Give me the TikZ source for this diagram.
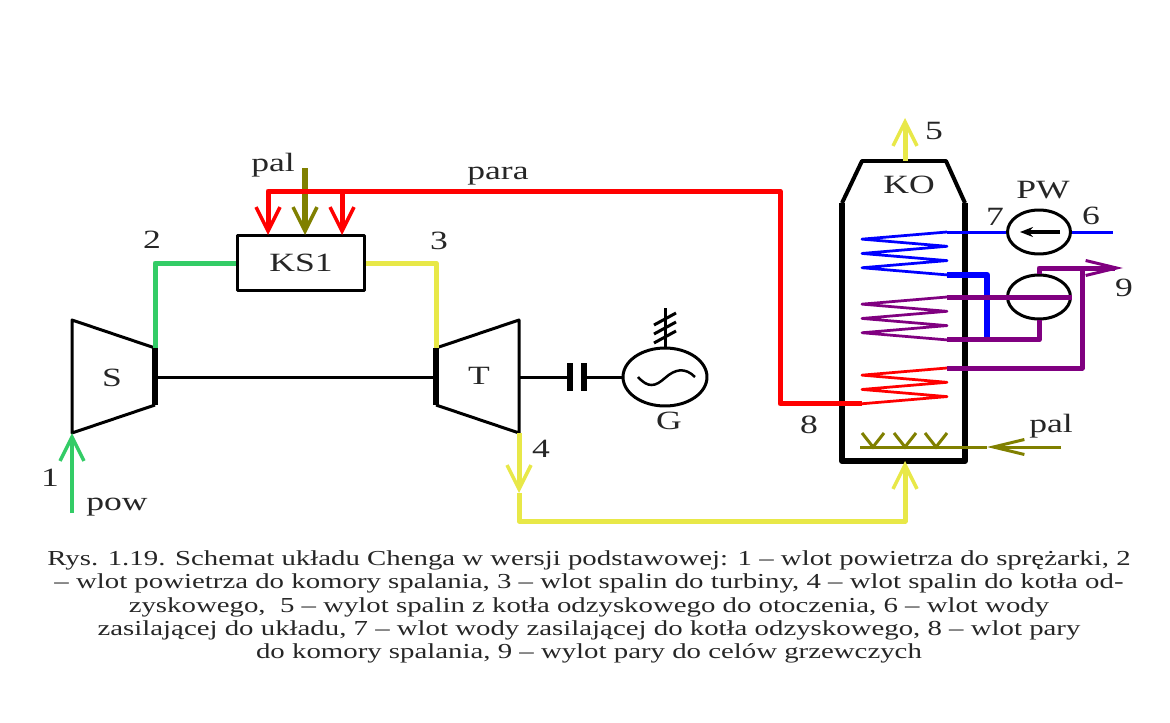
\documentclass[tikz,border=0pt]{standalone}
\usepackage{fontspec}
\setmainfont[FakeStretch=1.35]{Liberation Serif}
\usetikzlibrary{arrows.meta,shapes.geometric}

\definecolor{pipeGreen}{HTML}{33CC66}
\definecolor{pipeYellow}{HTML}{E8E848}
\definecolor{pipeRed}{HTML}{FF0000}
\definecolor{pipeOlive}{HTML}{808000}
\definecolor{pipeBlue}{HTML}{0000FF}
\definecolor{pipePurple}{HTML}{800080}

\begin{document}
\begin{tikzpicture}[
    x=0.02cm, y=-0.02cm,
    % unified line styles
    thin_line/.style={line width=0.06cm, line join=round},
    thick_line/.style={line width=0.11cm},
    pipe_line/.style={line width=0.1cm, line join=round},
    water_line/.style={line width=0.06cm},
    coil_line/.style={line width=0.055cm, line join=round},
    barb_tip/.style={-{Straight Barb[length=0.48cm,width=0.48cm,line width=0.07cm]}},
    long_tip/.style={-{Straight Barb[length=0.62cm,width=0.3cm,line width=0.06cm]}},
    label_text/.style={inner sep=0pt, text=black!85, font=\fontsize{15}{17}\selectfont},
    caption_text/.style={inner sep=0pt, align=center, text=black!85, font=\fontsize{12.15}{13.2}\selectfont},
    round_box/.style={ellipse, draw=black, thin_line, inner sep=0pt, minimum width=1.26cm, minimum height=0.88cm},
    clutch_bar/.style={fill=black, inner sep=0pt, minimum width=0.12cm, minimum height=0.58cm}
]
    \useasboundingbox (0,0) rectangle (1170,723);

    % --- coil macro: name, start y, number of segments, colour ---
    \newcommand{\coil}[4]{
        \coordinate (#1_in) at (947,#2);
        \draw[coil_line, color=#4] (#1_in)
            foreach \k in {1,...,#3} { -- ({947-85*mod(\k,2)},{#2+7.15*\k}) } coordinate (#1_out);
    }

    % --- machines ---
    \coordinate (S_a) at (72,320);
    \coordinate (S_b) at (155,348);
    \coordinate (S_c) at (155,405);
    \coordinate (S_d) at (72,433);
    \coordinate (S_shaft) at (155,377);
    \draw[thin_line] (S_b) -- (S_a) -- (S_d) -- (S_c);
    \draw[thick_line] (S_b) -- (S_c);
    \node[label_text] (S) at (112,378) {S};

    \coordinate (T_a) at (436,348);
    \coordinate (T_b) at (519,320);
    \coordinate (T_c) at (519,433);
    \coordinate (T_d) at (436,405);
    \coordinate (T_shaft) at (436,377);
    \coordinate (T_out) at (519,377);
    \draw[thin_line] (T_a) -- (T_b) -- (T_c) -- (T_d);
    \draw[thick_line] (T_a) -- (T_d);
    \node[label_text] (T) at (479,376) {T};

    \node[draw=black, thin_line, fill=white, minimum width=2.56cm, minimum height=1.12cm, label_text] (KS1) at (301,263) {KS1};

    % shaft, clutch and generator
    \node[round_box, minimum width=1.68cm, minimum height=1.16cm] (Gen) at (665,377) {};
    \node[clutch_bar] (clutch_a) at (570,377) {};
    \node[clutch_bar] (clutch_b) at (584,377) {};
    \draw[thin_line] (S_shaft) -- (T_shaft);
    \draw[thin_line] (T_out) -- (clutch_a);
    \draw[thin_line] (clutch_b) -- (Gen);
    \draw[line width=0.05cm] (638,377) .. controls (648,388) and (655,387) .. (665,378) .. controls (675,369) and (685,367) .. (695,377);
    \coordinate (mast) at (665,308);
    \draw[thin_line] (Gen) -- (mast);
    \foreach \yy in {325,334,343} {
        \draw[line width=0.06cm] (654,\yy) -- (676,\yy-12);
    }

    % --- boiler casing ---
    \coordinate (KO_a) at (842,203);
    \coordinate (KO_b) at (862,161);
    \coordinate (KO_c) at (946,161);
    \coordinate (KO_d) at (965,203);
    \coordinate (KO_e) at (965,461);
    \coordinate (KO_f) at (842,461);
    \draw[line width=0.08cm, line join=round] (KO_a) -- (KO_b) -- (KO_c) -- (KO_d);
    \draw[line width=0.12cm, line join=round] (KO_a) -- (KO_f) -- (KO_e) -- (KO_d);

    % --- coils ---
    \coil{coil_blue}{232}{6}{pipeBlue}
    \coil{coil_purple}{297}{6}{pipePurple}
    \coil{coil_red}{368}{5}{pipeRed}

    % --- air and flue gas ---
    \coordinate (air_in) at (72,513);
    \draw[pipe_line, color=pipeGreen, barb_tip, line width=0.08cm] (air_in) -- (S_d);
    \draw[pipe_line, color=pipeGreen] (S_b) |- (KS1.west);
    \draw[pipe_line, color=pipeYellow] (KS1.east) -| (T_a);
    \coordinate (gas_mid) at (519,493);
    \coordinate (KO_bottom) at (905,461);
    \coordinate (KO_top) at (905,161);
    \coordinate (gas_out) at (905,118);
    \draw[pipe_line, color=pipeYellow, barb_tip] (T_c) -- (gas_mid);
    \draw[pipe_line, color=pipeYellow, barb_tip] (gas_mid) |- (700,521) -| (KO_bottom);
    \draw[pipe_line, color=pipeYellow, barb_tip] (KO_top) -- (gas_out);

    % --- fuel ---
    \coordinate (fuel_top) at (305,168);
    \coordinate (fuel_in) at (305,235);
    \draw[thick_line, color=pipeOlive, barb_tip] (fuel_top) -- (fuel_in);
    \coordinate (burner_in) at (1061,447);
    \coordinate (burner_mid) at (987,447);
    \coordinate (burner_end) at (860,447);
    \draw[water_line, color=pipeOlive, long_tip] (burner_in) -- (burner_mid);
    \draw[water_line, color=pipeOlive] (burner_mid) -- (burner_end);
    \foreach \xx in {873,905,936} {
        \draw[water_line, color=pipeOlive] (\xx-11,433) -- (\xx,447) -- (\xx+11,433);
    }

    % --- steam to the combustion chamber ---
    \coordinate (steam_left) at (268,235);
    \coordinate (steam_right) at (342,235);
    \coordinate (steam_top) at (342,191);
    \coordinate (steam_turn) at (780,191);
    \draw[pipe_line, color=pipeRed] (coil_red_out) -| (steam_turn) -- (steam_top);
    \draw[pipe_line, color=pipeRed, barb_tip] (steam_top) -| (steam_left);
    \draw[pipe_line, color=pipeRed, barb_tip] (steam_top) -- (steam_right);

    % --- feed water and heat exchanger ---
    \node[round_box] (PW) at (1039,232) {};
    \node[round_box] (WYM) at (1039,297) {};
    \coordinate (water_in) at (1113,232);
    \coordinate (PW_arrow_a) at (1060,232);
    \coordinate (PW_arrow_b) at (1020,232);
    \draw[water_line, color=pipeBlue] (coil_blue_in) -- (PW.west);
    \draw[water_line, color=pipeBlue] (PW.east) -- (water_in);
    \draw[line width=0.09cm, -{Stealth[length=0.26cm,width=0.2cm]}] (PW_arrow_a) -- (PW_arrow_b);

    \coordinate (blue_end) at (987,340);
    \draw[pipe_line, color=pipeBlue, line width=0.13cm] (coil_blue_out) -| (blue_end);
    \draw[pipe_line, color=pipePurple] (coil_purple_in) -- (WYM.east);
    \draw[pipe_line, color=pipePurple] (coil_purple_out) -| (WYM.south);
    \coordinate (heat_out) at (1123,268);
    \coordinate (heat_turn) at (1082,268);
    \draw[pipe_line, color=pipePurple, long_tip] (WYM.north) |- (heat_out);
    \draw[pipe_line, color=pipePurple] (coil_red_in) -| (heat_turn);

    % --- labels ---
    \node[label_text] (n1) at (50,478) {1};
    \node[label_text] (pow) at (117,507) {pow};
    \node[label_text] (n2) at (152,240) {2};
    \node[label_text] (pal_a) at (273,165) {pal};
    \node[label_text] (para) at (498,176) {para};
    \node[label_text] (n3) at (439,241) {3};
    \node[label_text] (n4) at (541,449) {4};
    \node[label_text] (G) at (669,421) {G};
    \node[label_text] (n8) at (809,425) {8};
    \node[label_text] (pal_b) at (1051,426) {pal};
    \node[label_text] (n5) at (934,131) {5};
    \node[label_text] (KO) at (909,185) {KO};
    \node[label_text] (PW_t) at (1043,190) {PW};
    \node[label_text] (n7) at (995,217) {7};
    \node[label_text] (n6) at (1091,216) {6};
    \node[label_text] (n9) at (1124,288) {9};

    \node[caption_text] (caption) at (589,607) {Rys. 1.19. Schemat układu Chenga w wersji podstawowej: 1 -- wlot powietrza do sprężarki, 2\\
    -- wlot powietrza do komory spalania, 3 -- wlot spalin do turbiny, 4 -- wlot spalin do kotła od-\\
    zyskowego,~ 5 -- wylot spalin z kotła odzyskowego do otoczenia, 6 -- wlot wody\\
    zasilającej do układu, 7 -- wlot wody zasilającej do kotła odzyskowego, 8 -- wlot pary\\
    do komory spalania, 9 -- wylot pary do celów grzewczych};

\end{tikzpicture}
\end{document}
